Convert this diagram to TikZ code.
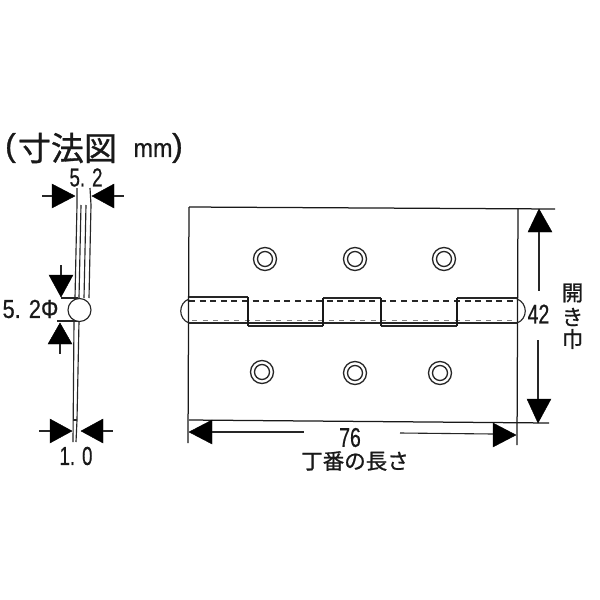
\documentclass[tikz,border=0pt]{standalone}
\usepackage{fontspec}
\usepackage{graphicx}
\setmainfont{Liberation Sans}[FakeBold=0.6]
\newfontfamily\jpfont{Noto Sans CJK JP}[FakeBold=0.9]
\newfontfamily\parfont{Liberation Sans}[FakeBold=1]
\newcommand{\dig}[1]{\scalebox{0.72}[1]{\fontsize{26}{26}\selectfont #1}}
\newcommand{\digw}[1]{\scalebox{0.84}[1]{\fontsize{26}{26}\selectfont #1}}
\newcommand{\digb}[1]{\scalebox{0.72}[1]{\fontsize{27}{27}\selectfont #1}}
\tikzset{
  plate/.style={line width=1.25pt,black!90},
  thick line/.style={line width=1.9pt,black!90},
  thin line/.style={line width=1.15pt,black!85},
  head/.style={fill=black,draw=black,line width=.4pt,line join=miter},
  tail/.style={line width=1.1pt,black!85},
  hole/.style={line width=1.3pt,black!85,fill=white},
  label/.style={inner sep=0pt,outer sep=0pt,text=black!90},
  jp/.style={label,font=\jpfont\fontsize{21.5}{21.5}\selectfont},
  dash top/.style={line width=1.8pt,black!85,dash pattern=on 6pt off 4.6pt},
  dash bottom/.style={line width=1.1pt,black!50,dash pattern=on 5pt off 5.5pt}
}
\begin{document}
\begin{tikzpicture}[x=1pt,y=-1pt]
\useasboundingbox[fill=white] (0,0) rectangle (600,600);

% plate outline and extension lines
\draw[plate] (189,207) -- (555,209);
\draw[plate] (189,420) -- (549,423);
\draw[plate] (189,207) -- (188,443);
\draw[plate] (518,208) -- (517,445);

% hinge knuckles
\draw[thin line] (189,297) -- (248,297);
\draw[thin line] (323,298) -- (381,298);
\draw[thin line] (457,298) -- (517,298);
\draw[dash top] (189,301) -- (517,301);
\draw[dash bottom] (192,320.5) -- (517,320.5);
\draw[thin line] (189,323) -- (517,323);
\draw[thin line] (248,326) -- (323,326);
\draw[thin line] (381,326) -- (457,326);
\draw[thick line] (248,297) -- (248,326);
\draw[thick line] (323,298) -- (323,326);
\draw[thick line] (381,298) -- (381,326);
\draw[thick line] (457,298) -- (457,326);
\draw[thin line] (189,299) .. controls (178,303) and (178,319) .. (189,323);
\draw[thin line] (517,299) .. controls (528,303) and (528,319) .. (517,323);

% screw holes
\foreach \x/\y in {265/259,355/259,444/259,262/372,355/373,440/373}{
  \draw[hole] (\x,\y) circle (11.5pt);
  \draw[hole] (\x,\y) circle (7.5pt);
}

% side view
\draw[thin line] (77,188) -- (77,205) -- (75,298);
\draw[thin line] (81,205) -- (79,298);
\draw[thin line] (86,205) -- (84,298);
\draw[thin line] (90,188) -- (91,205) -- (89,298);
\draw[thin line] (74,321) -- (73,442);
\draw[thin line] (79,321) -- (77,420) -- (76,442);
\draw[thin line] (73,420) -- (77,420);
\draw[thin line] (61,298) -- (78,298);
\draw[thin line] (57,321) -- (78,321);
\draw[thin line,fill=white] (79.5,310) circle (11.5pt);

% arrowheads
\fill[head] (75,196) -- (52,184) -- (52,208) -- cycle;
\draw[tail] (42,196) -- (52,196);
\fill[head] (92,196) -- (114,184) -- (114,208) -- cycle;
\draw[tail] (114,196) -- (124,196);
\fill[head] (61,297) -- (49,275) -- (73,275) -- cycle;
\draw[tail] (61,265) -- (61,275);
\fill[head] (60,323) -- (48,344) -- (72,344) -- cycle;
\draw[tail] (60,344) -- (60,354);
\fill[head] (72,431) -- (50,419) -- (50,443) -- cycle;
\draw[tail] (39,431) -- (50,431);
\fill[head] (81,431) -- (103,419) -- (103,443) -- cycle;
\draw[tail] (103,431) -- (113,431);
\fill[head] (539,209) -- (528,232) -- (552,232) -- cycle;
\draw[tail] (539,232) -- (539,291);
\fill[head] (538,423) -- (527,399) -- (551,399) -- cycle;
\draw[tail] (538,340) -- (538,399);
\fill[head] (189,432) -- (212,420) -- (212,444) -- cycle;
\draw[tail] (212,432) -- (304,432);
\fill[head] (516,435) -- (493,423) -- (493,447) -- cycle;
\draw[tail] (400,433) -- (493,434);

% labels
\node[label,font=\parfont\fontsize{32}{32}\selectfont,anchor=center] (par1) at (10.5,148) {(};
\node[label,font=\jpfont\fontsize{33}{33}\selectfont,anchor=center] (title) at (67.5,148) {寸法図};
\node[label,font=\fontsize{26}{26}\selectfont,anchor=center] (mm) at (153,150) {\scalebox{.9}[1]{mm}};
\node[label,font=\parfont\fontsize{32}{32}\selectfont,anchor=center] (par2) at (177.5,148) {)};

\node[label] (d1) at (86,177.5) {\dig{5. 2}};
\node[label] (d2) at (30.5,309) {\digw{5. 2Φ}};
\node[label] (d3) at (76,456) {\dig{1. 0}};
\node[label] (d4) at (350,437.5) {\digb{76}};
\node[label] (d5) at (538.5,314) {\digb{42}};

\node[jp] (len) at (355,461) {丁番の長さ};
\node[jp] (w1) at (572.5,293) {開};
\node[jp] (w2) at (572.5,317) {き};
\node[jp] (w3) at (572.5,339) {巾};
\end{tikzpicture}
\end{document}
